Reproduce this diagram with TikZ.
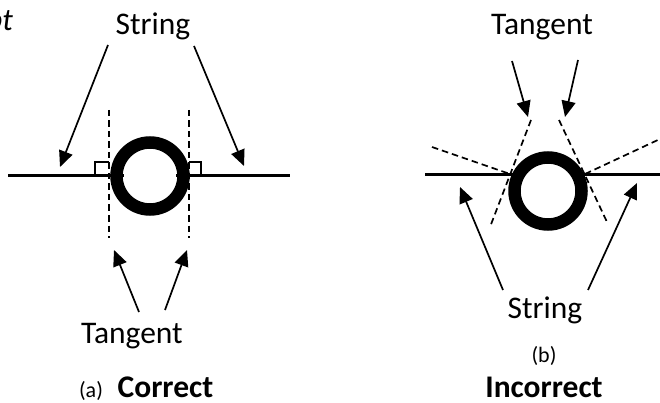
\documentclass[tikz,border=0pt]{standalone}
\usepackage{fontspec}
\setmainfont{Carlito}
\usepackage{tikz}
\usetikzlibrary{
arrows.meta,
positioning,
calc
}

\begin{document}
\begin{tikzpicture}[
x=1pt,y=-1pt,
label/.style={
inner sep=0pt,
anchor=base,
font=\fontsize{31.5}{36}\selectfont
},
small/.style={
inner sep=0pt,
anchor=base,
font=\fontsize{22}{26}\selectfont
},
string/.style={line width=3pt},
ring/.style={line width=12.5pt},
tangent/.style={line width=1.7pt,dash pattern=on 6.5pt off 4pt},
corner/.style={line width=1.3pt},
arrow/.style={-{Triangle[length=16pt,width=14pt]},line width=1.7pt}
]
\useasboundingbox (0,0) rectangle (660,403);

% panel (a)
\node[label,anchor=base east,font=\fontsize{31.5}{36}\selectfont\itshape] (cut) at (13,31) {pt};
\node[label] (strA) at (153,35) {String};
\node[label] (tanA) at (132,343) {Tangent};
\node[small] (labA) at (91,397) {(a)};
\node[label,font=\fontsize{31.5}{36}\selectfont\bfseries] (corA) at (165.5,397) {Correct};

\coordinate (ringA) at (150,176);
\draw[tangent] (109,110) -- (109,238);
\draw[tangent] (189,110) -- (189,238);
\draw[ring] (ringA) circle[radius=33.5];
\draw[string] (8,176) -- (124,176);
\draw[string] (176,176) -- (290,176);
\draw[corner] (95,176) -- (95,162) -- (109,162);
\draw[corner] (189,162) -- (201,162) -- (201,176);

\coordinate (sA1) at (108,45);  \coordinate (sA1t) at (60,167);
\coordinate (sA2) at (194,46);  \coordinate (sA2t) at (244,166);
\coordinate (tA1) at (139,312); \coordinate (tA1t) at (114,250);
\coordinate (tA2) at (165,310); \coordinate (tA2t) at (187,250);
\draw[arrow] (sA1) -- (sA1t);
\draw[arrow] (sA2) -- (sA2t);
\draw[arrow] (tA1) -- (tA1t);
\draw[arrow] (tA2) -- (tA2t);

% panel (b)
\node[label] (tanB) at (542,35) {Tangent};
\node[label] (strB) at (545,318) {String};
\node[small] (labB) at (544,362) {(b)};
\node[label,font=\fontsize{31.5}{36}\selectfont\bfseries] (incB) at (544,397) {Incorrect};

\coordinate (ringB) at (548,191);
\draw[tangent] (432,147) -- (510,174);
\draw[tangent] (531,120) -- (490,227);
\draw[tangent] (559,120) -- (607,222);
\draw[tangent] (585,174) -- (660,139);
\draw[ring] (ringB) circle[radius=33.5];
\draw[string] (425,175) -- (524,175);
\draw[string] (572,175) -- (660,175);

\coordinate (tB1) at (512,61);  \coordinate (tB1t) at (528,117);
\coordinate (tB2) at (578,60);  \coordinate (tB2t) at (565,117);
\coordinate (sB1) at (503,290); \coordinate (sB1t) at (460,187);
\coordinate (sB2) at (588,290); \coordinate (sB2t) at (637,183);
\draw[arrow] (tB1) -- (tB1t);
\draw[arrow] (tB2) -- (tB2t);
\draw[arrow] (sB1) -- (sB1t);
\draw[arrow] (sB2) -- (sB2t);

\end{tikzpicture}
\end{document}
